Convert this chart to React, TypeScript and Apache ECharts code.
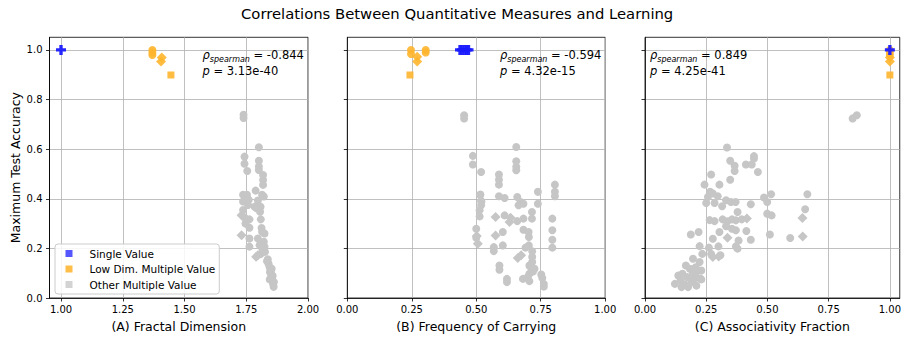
import React, { useEffect, useRef } from "react";
import * as echarts from "echarts";

const FONT = "DejaVu Sans";

const titleText = "Correlations Between Quantitative Measures and Learning";
const yAxisName = "Maximum Test Accuracy";
const panelNames = ["(A) Fractal Dimension", "(B) Frequency of Carrying", "(C) Associativity Fraction"];
const xTicksA = [1.0, 1.25, 1.5, 1.75, 2.0];
const xTicksBC = [0, 0.25, 0.5, 0.75, 1.0];
const yTicks = [0, 0.2, 0.4, 0.6, 0.8, 1.0];
const legendNames = ["Single Value", "Low Dim. Multiple Value", "Other Multiple Value"];

const statsRho = ["-0.844", "-0.594", "0.849"];
const statsP = ["3.13e-40", "4.32e-15", "4.25e-41"];

// Panel A: Fractal Dimension
const fdOtherCircles = [
  [1.739, 0.739], [1.739, 0.726], [1.801, 0.608], [1.743, 0.57], [1.743, 0.541], [1.801, 0.553], [1.801, 0.53],
  [1.754, 0.512], [1.801, 0.516], [1.818, 0.496], [1.818, 0.476], [1.818, 0.456], [1.788, 0.433], [1.737, 0.416],
  [1.753, 0.416], [1.814, 0.416], [1.821, 0.409], [1.797, 0.393], [1.737, 0.389], [1.757, 0.375], [1.784, 0.368],
  [1.808, 0.368], [1.737, 0.355], [1.806, 0.348], [1.743, 0.325], [1.763, 0.317], [1.809, 0.317], [1.763, 0.283],
  [1.814, 0.267], [1.824, 0.26], [1.763, 0.24], [1.797, 0.24], [1.821, 0.227], [1.763, 0.207], [1.804, 0.213],
  [1.824, 0.207], [1.808, 0.177], [1.837, 0.156], [1.84, 0.139], [1.844, 0.126], [1.848, 0.112], [1.851, 0.099],
  [1.851, 0.085], [1.855, 0.072], [1.858, 0.058], [1.861, 0.045], [1.834, 0.148], [1.846, 0.104], [1.853, 0.118],
  [1.857, 0.09], [1.845, 0.075], [1.862, 0.065], [1.816, 0.196], [1.826, 0.186], [1.747, 0.3], [1.812, 0.282],
  [1.76, 0.396], [1.792, 0.362],
];
const fdOtherDiamonds = [[1.731, 0.334], [1.731, 0.253], [1.79, 0.166], [1.797, 0.172]];
const fdLowCircles = [[1.37, 1.0], [1.37, 0.99], [1.37, 0.98]];
const fdLowDiamonds = [[1.408, 0.97], [1.405, 0.953]];
const fdLowSquares = [[1.445, 0.899]];
const fdSingle = [[1.0, 1.0]];

// Panel B: Frequency of Carrying
const fcOtherCircles = [
  [0.453, 0.737], [0.453, 0.724], [0.655, 0.609], [0.487, 0.573], [0.487, 0.538], [0.655, 0.551], [0.655, 0.529],
  [0.655, 0.515], [0.519, 0.508], [0.588, 0.498], [0.588, 0.477], [0.588, 0.457], [0.805, 0.457], [0.805, 0.428],
  [0.805, 0.41], [0.739, 0.428], [0.516, 0.417], [0.588, 0.41], [0.61, 0.403], [0.659, 0.407], [0.519, 0.391],
  [0.672, 0.387], [0.683, 0.38], [0.664, 0.374], [0.739, 0.38], [0.519, 0.374], [0.513, 0.354], [0.513, 0.329],
  [0.716, 0.347], [0.716, 0.32], [0.61, 0.333], [0.659, 0.31], [0.683, 0.32], [0.795, 0.32], [0.5, 0.279],
  [0.5, 0.243], [0.683, 0.275], [0.603, 0.266], [0.703, 0.266], [0.704, 0.246], [0.603, 0.212], [0.795, 0.273],
  [0.795, 0.235], [0.795, 0.203], [0.704, 0.212], [0.691, 0.203], [0.568, 0.205], [0.568, 0.189], [0.717, 0.188],
  [0.717, 0.165], [0.717, 0.145], [0.706, 0.131], [0.59, 0.131], [0.59, 0.114], [0.726, 0.118], [0.706, 0.098],
  [0.752, 0.095], [0.756, 0.081], [0.619, 0.077], [0.619, 0.064], [0.681, 0.077], [0.706, 0.068], [0.762, 0.057],
  [0.762, 0.046], [0.515, 0.415], [0.52, 0.388], [0.72, 0.107], [0.7, 0.085], [0.71, 0.127],
];
const fcOtherDiamonds = [
  [0.575, 0.327], [0.633, 0.324], [0.629, 0.306], [0.575, 0.252], [0.506, 0.219], [0.674, 0.172], [0.661, 0.161],
  [0.502, 0.25],
];
const fcLowCircles = [[0.247, 1.0], [0.247, 0.984], [0.304, 1.0], [0.304, 0.99]];
const fcLowDiamonds = [[0.271, 0.973], [0.271, 0.953]];
const fcLowSquares = [[0.243, 0.899]];
const fcSingle = [[0.437, 1.0], [0.445, 1.0], [0.455, 1.0], [0.463, 1.0], [0.47, 1.0]];

// Panel C: Associativity Fraction
const afOtherCircles = [
  [0.335, 0.607], [0.348, 0.553], [0.366, 0.533], [0.366, 0.512], [0.412, 0.538], [0.436, 0.538], [0.445, 0.572],
  [0.445, 0.562], [0.461, 0.508], [0.27, 0.498], [0.348, 0.477], [0.243, 0.457], [0.304, 0.457], [0.266, 0.428],
  [0.277, 0.421], [0.257, 0.407], [0.297, 0.41], [0.25, 0.383], [0.284, 0.383], [0.331, 0.394], [0.351, 0.387],
  [0.37, 0.387], [0.315, 0.37], [0.432, 0.378], [0.486, 0.405], [0.499, 0.387], [0.515, 0.418], [0.663, 0.418],
  [0.378, 0.347], [0.499, 0.34], [0.517, 0.333], [0.654, 0.358], [0.317, 0.317], [0.337, 0.309], [0.355, 0.317],
  [0.371, 0.313], [0.395, 0.317], [0.331, 0.289], [0.355, 0.279], [0.371, 0.273], [0.414, 0.27], [0.304, 0.266],
  [0.382, 0.232], [0.432, 0.235], [0.51, 0.256], [0.593, 0.242], [0.187, 0.256], [0.219, 0.266], [0.277, 0.239],
  [0.223, 0.209], [0.261, 0.203], [0.3, 0.208], [0.371, 0.208], [0.378, 0.199], [0.27, 0.178], [0.308, 0.172],
  [0.234, 0.178], [0.196, 0.158], [0.223, 0.145], [0.167, 0.131], [0.207, 0.124], [0.183, 0.118], [0.216, 0.111],
  [0.23, 0.111], [0.153, 0.098], [0.196, 0.1], [0.136, 0.091], [0.172, 0.084], [0.21, 0.084], [0.145, 0.071],
  [0.189, 0.071], [0.23, 0.075], [0.122, 0.057], [0.163, 0.054], [0.196, 0.064], [0.149, 0.044], [0.176, 0.044],
  [0.21, 0.05], [0.848, 0.724], [0.865, 0.737], [0.226, 0.078], [0.284, 0.31], [0.264, 0.314],
];
const afOtherDiamonds = [[0.643, 0.323], [0.644, 0.248], [0.416, 0.32], [0.337, 0.243], [0.301, 0.167], [0.277, 0.165]];
const afLowCircles = [[1.0, 1.0], [1.0, 0.99], [1.0, 0.98]];
const afLowDiamonds = [[1.0, 0.97], [1.0, 0.953]];
const afLowSquares = [[1.0, 0.899]];
const afSingle = [[1.0, 1.0]];

const GREY = "#c6c6c6";
const ORANGE = "#ffb52e";
const BLUE = "#1a1aff";
const PLUS = "path://M1,0L2,0L2,1L3,1L3,2L2,2L2,3L1,3L1,2L0,2L0,1L1,1Z";

const panels = [
  { other: [fdOtherCircles, fdOtherDiamonds], low: [fdLowCircles, fdLowDiamonds, fdLowSquares], single: fdSingle,
    min: 0.9534, max: 2.0, ticks: xTicksA, left: 49.5, width: 258.5, annX: 202.5 },
  { other: [fcOtherCircles, fcOtherDiamonds], low: [fcLowCircles, fcLowDiamonds, fcLowSquares], single: fcSingle,
    min: 0, max: 1.0, ticks: xTicksBC, left: 347.3, width: 257.9, annX: 500 },
  { other: [afOtherCircles, afOtherDiamonds], low: [afLowCircles, afLowDiamonds, afLowSquares], single: afSingle,
    min: 0, max: 1.0404, ticks: xTicksBC, left: 645, width: 257.7, annX: 650 },
];

const GRID_TOP = 37.3;
const GRID_H = 260.7;

export default function App() {
  const ref = useRef<HTMLDivElement>(null);
  useEffect(() => {
    if (!ref.current) return;
    const chart = echarts.init(ref.current, undefined, { renderer: "svg" });

    const grids: any[] = [];
    const xAxes: any[] = [];
    const yAxes: any[] = [];
    const series: any[] = [];
    const graphics: any[] = [];

    panels.forEach((p, i) => {
      grids.push({
        left: p.left, top: GRID_TOP, width: p.width, height: GRID_H,
        show: true, borderColor: "#000", borderWidth: 0.8, backgroundColor: "transparent",
      });
      xAxes.push({
        gridIndex: i, type: "value", min: p.min, max: p.max,
        name: panelNames[i], nameLocation: "middle", nameGap: 21.5,
        nameTextStyle: { fontFamily: FONT, fontSize: 12.5, color: "#000" },
        axisLine: { show: true, onZero: false, lineStyle: { color: "#000", width: 0.8 } },
        axisTick: { show: true, length: 3.5, inside: false, customValues: p.ticks, lineStyle: { color: "#000", width: 0.8 } },
        axisLabel: { show: true, customValues: p.ticks, formatter: (v: number) => v.toFixed(2), fontFamily: FONT, fontSize: 10, color: "#000", margin: 6.5 },
        splitLine: { show: true, lineStyle: { color: "#b0b0b0", width: 0.8 } },
      });
      yAxes.push({
        gridIndex: i, type: "value", min: 0, max: 1.051,
        name: i === 0 ? yAxisName : "", nameLocation: "middle", nameGap: 28,
        nameTextStyle: { fontFamily: FONT, fontSize: 12.5, color: "#000" },
        axisLine: { show: true, onZero: false, lineStyle: { color: "#000", width: 0.8 } },
        axisTick: { show: true, length: 3.5, inside: false, customValues: yTicks, lineStyle: { color: "#000", width: 0.8 } },
        axisLabel: { show: i === 0, customValues: yTicks, formatter: (v: number) => v.toFixed(1), fontFamily: FONT, fontSize: 10, color: "#000", margin: 7 },
        splitLine: { show: true, lineStyle: { color: "#b0b0b0", width: 0.8 } },
      });

      const [oc, od] = p.other;
      series.push({
        type: "scatter", name: legendNames[2], xAxisIndex: i, yAxisIndex: i,
        symbol: "circle", symbolSize: 8,
        itemStyle: { color: GREY, opacity: 1 },
        data: [
          ...oc.map((v) => ({ value: v })),
          ...od.map((v) => ({ value: v, symbol: "diamond", symbolSize: 10 })),
        ],
      });
      const [lc, ld, ls] = p.low;
      series.push({
        type: "scatter", name: legendNames[1], xAxisIndex: i, yAxisIndex: i,
        symbol: "circle", symbolSize: 8,
        itemStyle: { color: ORANGE, opacity: 0.9 },
        data: [
          ...lc.map((v) => ({ value: v })),
          ...ld.map((v) => ({ value: v, symbol: "diamond", symbolSize: 10 })),
          ...ls.map((v) => ({ value: v, symbol: "rect", symbolSize: 7 })),
        ],
      });
      series.push({
        type: "scatter", name: legendNames[0], xAxisIndex: i, yAxisIndex: i,
        symbol: PLUS, symbolSize: 10,
        itemStyle: { color: BLUE, opacity: 0.95 },
        data: p.single.map((v) => ({ value: v })),
      });

      graphics.push({
        type: "text", x: p.annX, y: 55, z: 100,
        style: {
          text: `{r|ρ}{s|spearman}{n| = ${statsRho[i]}}`,
          verticalAlign: "middle",
          rich: {
            r: { fontFamily: FONT, fontStyle: "italic", fontSize: 11.5, lineHeight: 16, fill: "#000" },
            s: { fontFamily: FONT, fontStyle: "italic", fontSize: 8, lineHeight: 11, verticalAlign: "bottom", fill: "#000" },
            n: { fontFamily: FONT, fontSize: 11.5, lineHeight: 16, fill: "#000" },
          },
        },
      });
      graphics.push({
        type: "text", x: p.annX, y: 70.5, z: 100,
        style: {
          text: `{i|p}{n| = ${statsP[i]}}`,
          verticalAlign: "middle",
          rich: {
            i: { fontFamily: FONT, fontStyle: "italic", fontSize: 11.5, lineHeight: 16, fill: "#000" },
            n: { fontFamily: FONT, fontSize: 11.5, lineHeight: 16, fill: "#000" },
          },
        },
      });
    });

    chart.setOption({
      animation: false,
      backgroundColor: "#fff",
      title: {
        text: titleText, left: 241, top: 6, padding: 0,
        textStyle: { fontFamily: FONT, fontSize: 14.8, fontWeight: "normal", color: "#000" },
      },
      legend: {
        show: true, orient: "vertical", left: 55, top: 244,
        icon: "rect", itemWidth: 7, itemHeight: 7, itemGap: 2.5,
        padding: [3, 4, 3, 10.5],
        backgroundColor: "rgba(255,255,255,0.85)", borderColor: "#cccccc", borderWidth: 1, borderRadius: 3,
        textStyle: { fontFamily: FONT, fontSize: 10.5, color: "#000", lineHeight: 13, padding: [0, 0, 0, 12] },
        data: [
          { name: legendNames[0], itemStyle: { color: "#4d4dff" } },
          { name: legendNames[1], itemStyle: { color: "#ffb733" } },
          { name: legendNames[2], itemStyle: { color: "#d3d3d3" } },
        ],
        selectedMode: false,
      },
      grid: grids,
      xAxis: xAxes,
      yAxis: yAxes,
      series,
      graphic: graphics,
    });
    return () => chart.dispose();
  }, []);
  return <div ref={ref} style={{ position: "absolute", left: 0, top: 0, width: 904, height: 338 }} />;
}
